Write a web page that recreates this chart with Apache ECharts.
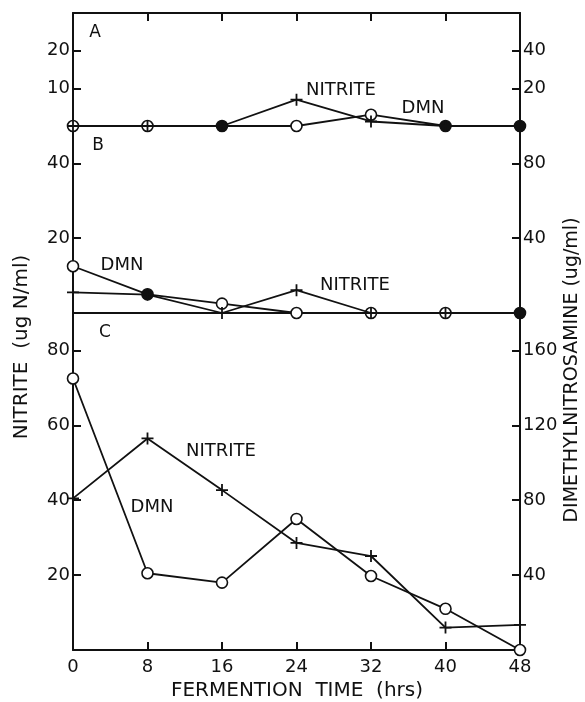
<!DOCTYPE html>
<html>
<head>
<meta charset="utf-8">
<title>Nitrite and DMN during fermentation</title>
<script src="https://cdn.jsdelivr.net/npm/echarts@6/dist/echarts.min.js"></script>
<style>
  html, body { margin: 0; padding: 0; background: #fff; }
  #chart { width: 585px; height: 702px; }
</style>
</head>
<body>
<div id="chart"></div>
<script>
// fermentation time (hrs)
var hours = [0, 8, 16, 24, 32, 40, 48];

// panel A
var nitriteA = [0, 0, 0, 7, 1.2, 0, 0];
var dmnA = [0, 0, 0, 0, 6, 0, 0];
// panel B
var nitriteB = [5.5, 4.9, 0, 6.1, 0, 0, 0];
var dmnB = [25, 10, 5, 0, 0, 0, 0];
// panel C
var nitriteC = [40.5, 56.5, 42.7, 28.6, 25.1, 6, 6.7];
var dmnC = [145, 41, 36, 70, 39.5, 22, 0];

// tick labels
var xTicks = [0, 8, 16, 24, 32, 40, 48];
var leftTicksA = [10, 20];
var rightTicksA = [20, 40];
var leftTicksB = [20, 40];
var rightTicksB = [40, 80];
var leftTicksC = [20, 40, 60, 80];
var rightTicksC = [40, 80, 120, 160];

var FONT = 'DejaVu Sans, sans-serif';
var INK = '#111';
var PLUS = 'path://M8.5,0H11.5V8.5H20V11.5H11.5V20H8.5V11.5H0V8.5H8.5Z';

var myChart = echarts.init(document.getElementById('chart'));

function xAx(grid, pos, ticks, labels) {
    return {
        type: 'value', gridIndex: grid, position: pos, min: 0, max: 48, interval: 8,
        axisLine: { show: true, onZero: false, lineStyle: { color: INK, width: 2 } },
        axisTick: { show: ticks, inside: true, length: 8, lineStyle: { color: INK, width: 2 } },
        axisLabel: { show: labels, margin: 8, color: INK, fontSize: 18, fontFamily: FONT,
                     customValues: xTicks },
        splitLine: { show: false }
    };
}

function yAx(grid, pos, max, ticks) {
    return {
        type: 'value', gridIndex: grid, position: pos, min: 0, max: max,
        axisLine: { show: true, onZero: false, lineStyle: { color: INK, width: 2 } },
        axisTick: { show: true, inside: true, length: 8, customValues: ticks,
                    lineStyle: { color: INK, width: 2 } },
        axisLabel: { show: true, margin: 3, color: INK, fontSize: 18, fontFamily: FONT,
                     customValues: ticks },
        splitLine: { show: false }
    };
}

function pts(vals) {
    return hours.map(function (h, i) { return [h, vals[i]]; });
}

// circles that are printed solid where both curves sit on the baseline
function circlePts(vals, solid) {
    return hours.map(function (h, i) {
        var d = { value: [h, vals[i]] };
        if (solid.indexOf(h) >= 0) d.itemStyle = { color: INK };
        return d;
    });
}

function nitriteSeries(x, y, vals) {
    return {
        type: 'line', xAxisIndex: x, yAxisIndex: y, data: pts(vals), z: 4,
        symbol: PLUS, symbolSize: 12, showAllSymbol: true, clip: false,
        lineStyle: { color: INK, width: 1.8 },
        itemStyle: { color: INK, borderWidth: 0 }
    };
}

function dmnSeries(x, y, vals, solid) {
    return {
        type: 'line', xAxisIndex: x, yAxisIndex: y, data: circlePts(vals, solid), z: 3,
        symbol: 'circle', symbolSize: 11, showAllSymbol: true, clip: false,
        lineStyle: { color: INK, width: 1.8 },
        itemStyle: { color: '#fff', borderColor: INK, borderWidth: 1.6 }
    };
}

function txt(s, x, y, size, rot) {
    return {
        type: 'text', x: x, y: y, rotation: rot || 0, z: 10,
        style: { text: s, fill: INK, font: size + 'px ' + FONT, align: 'center', verticalAlign: 'middle' }
    };
}

var option = {
    backgroundColor: '#fff',
    animation: false,
    grid: [
        { left: 73, right: 65, top: 13, height: 113 },
        { left: 73, right: 65, top: 126, height: 187 },
        { left: 73, right: 65, top: 313, height: 337 }
    ],
    xAxis: [
        xAx(0, 'top', true, false),
        xAx(1, 'bottom', false, false),
        xAx(2, 'bottom', true, true)
    ],
    yAxis: [
        yAx(0, 'left', 30, leftTicksA),
        yAx(0, 'right', 60, rightTicksA),
        yAx(1, 'left', 50, leftTicksB),
        yAx(1, 'right', 100, rightTicksB),
        yAx(2, 'left', 90, leftTicksC),
        yAx(2, 'right', 180, rightTicksC)
    ],
    series: [
        dmnSeries(0, 1, dmnA, [16, 40, 48]),
        nitriteSeries(0, 0, nitriteA),
        dmnSeries(1, 3, dmnB, [8, 48]),
        nitriteSeries(1, 2, nitriteB),
        dmnSeries(2, 5, dmnC, []),
        nitriteSeries(2, 4, nitriteC)
    ],
    graphic: [
        txt('A', 95, 33, 17),
        txt('B', 98, 146, 17),
        txt('C', 105, 333, 17),
        txt('NITRITE', 341, 90, 18),
        txt('DMN', 423, 108, 18),
        txt('DMN', 122, 265, 18),
        txt('NITRITE', 355, 285, 18),
        txt('NITRITE', 221, 451, 18),
        txt('DMN', 152, 507, 18),
        txt('FERMENTION  TIME  (hrs)', 297, 691, 20),
        txt('NITRITE  (ug N/ml)', 22, 347, 20, Math.PI / 2),
        txt('DIMETHYLNITROSAMINE (ug/ml)', 572, 370, 19, Math.PI / 2)
    ]
};

myChart.setOption(option);
</script>
</body>
</html>
